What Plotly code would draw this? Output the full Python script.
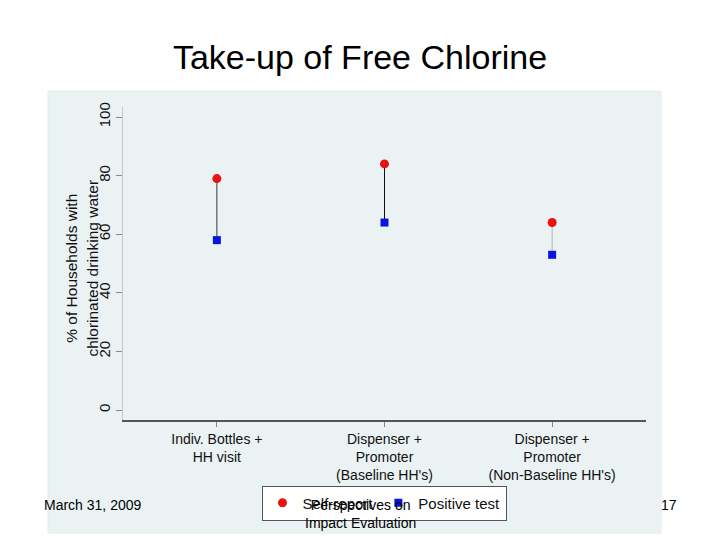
"""
Take-up of Free Chlorine — dot/range chart recreated with Plotly.
"""

import plotly.graph_objects as go

# Data
CATEGORIES = [
    'Indiv. Bottles +<br>HH visit',
    'Dispenser +<br>Promoter<br>(Baseline HH\'s)',
    'Dispenser +<br>Promoter<br>(Non-Baseline HH\'s)',
]
SELF_REPORT = [79, 84, 64]
POSITIVE_TEST = [58, 64, 53]
Y_TICKS = [0, 20, 40, 60, 80, 100]
GRID_TICKS = [20, 40, 60, 80]

# Styles
FONT = 'Arial, Liberation Sans, sans-serif'
PANEL_BG = '#eaf2f3'
LINK_COLORS = ['#3a3a3a', '#111111', '#b4b4b4']

W, H = 720, 540


def px_x(v):
    return v / W


def px_y(v):
    return 1 - v / H


xs = list(range(1, len(CATEGORIES) + 1))

fig = go.Figure()

# vertical connectors between the two measures
for x, lo, hi, col in zip(xs, POSITIVE_TEST, SELF_REPORT, LINK_COLORS):
    fig.add_trace(go.Scatter(
        x=[x, x], y=[lo, hi], mode='lines',
        line=dict(color=col, width=1), showlegend=False, hoverinfo='skip',
    ))

fig.add_trace(go.Scatter(
    x=xs, y=SELF_REPORT, mode='markers', name='Self-report',
    marker=dict(symbol='circle', size=9, color='#e8130f'),
))
fig.add_trace(go.Scatter(
    x=xs, y=POSITIVE_TEST, mode='markers', name='Positive test',
    marker=dict(symbol='square', size=8, color='#0a14e0'),
))

x_dom = [px_x(123), px_x(646)]
y_dom = [px_y(419), px_y(103)]
y_range = [-3.4, 103.4]

fig.update_layout(
    width=W, height=H,
    margin=dict(l=0, r=0, t=0, b=0),
    paper_bgcolor='white',
    plot_bgcolor='white',
    font=dict(family=FONT, color='#111111'),
    title=dict(
        text='Take-up of Free Chlorine',
        x=0.5, xanchor='center', y=px_y(57), yanchor='middle',
        font=dict(size=34, family=FONT, color='black'),
    ),
    xaxis=dict(
        domain=x_dom, range=[0.44, 3.56],
        tickvals=xs, ticktext=CATEGORIES,
        ticks='outside', ticklen=5, tickcolor='#888888',
        showgrid=False, zeroline=False,
        showline=True, linecolor='#555555', linewidth=1.5,
        tickfont=dict(size=14, color='#111111'),
        fixedrange=True,
    ),
    yaxis=dict(
        domain=y_dom, range=y_range,
        tickvals=Y_TICKS, tickangle=-90,
        ticks='outside', ticklen=6, tickcolor='#888888',
        showgrid=False, zeroline=False,
        showline=True, linecolor='#c8c8c8', linewidth=1,
        tickfont=dict(size=15, color='#111111'),
    ),
    # grid only on the interior ticks, like the Stata scheme
    yaxis2=dict(
        domain=y_dom, range=y_range, overlaying='y', anchor='x',
        tickvals=GRID_TICKS, showticklabels=False,
        showgrid=True, gridcolor=PANEL_BG, gridwidth=1.5,
        zeroline=False, showline=False,
    ),
    legend=dict(
        orientation='h',
        x=px_x(384), xanchor='center',
        y=px_y(485), yanchor='top',
        bgcolor='white', bordercolor='#555555', borderwidth=1,
        font=dict(size=15, color='#111111'),
        itemwidth=30,
    ),
    showlegend=True,
)

# invisible trace to activate the grid axis
fig.add_trace(go.Scatter(x=[None], y=[None], yaxis='y2', showlegend=False))

# light blue Stata graph region
fig.add_shape(
    type='rect', xref='paper', yref='paper',
    x0=px_x(48), x1=px_x(661), y0=px_y(533), y1=px_y(87),
    fillcolor=PANEL_BG, line=dict(color='#e2ecee', width=1), layer='below',
)

fig.add_annotation(
    text='% of Households with<br>chlorinated drinking water',
    xref='paper', yref='paper', x=px_x(82), y=px_y(266),
    xanchor='center', yanchor='middle', textangle=-90,
    showarrow=False, font=dict(size=15.5, color='#111111'),
)

# slide footer
fig.add_annotation(
    text='March 31, 2009', xref='paper', yref='paper',
    x=px_x(42), y=px_y(505), xanchor='left', yanchor='middle',
    showarrow=False, font=dict(size=14, color='black'),
)
fig.add_annotation(
    text='Perspectives on<br>Impact Evaluation', xref='paper', yref='paper',
    x=px_x(360), y=px_y(514), xanchor='center', yanchor='middle',
    showarrow=False, font=dict(size=14, color='black'),
)
fig.add_annotation(
    text='17', xref='paper', yref='paper',
    x=px_x(679), y=px_y(505), xanchor='right', yanchor='middle',
    showarrow=False, font=dict(size=14, color='black'),
)

# drop the browser's default 8px body margin so the page lines up
fig.write_html('out.html', config={'displayModeBar': False},
               post_script="document.body.style.margin='0';")
